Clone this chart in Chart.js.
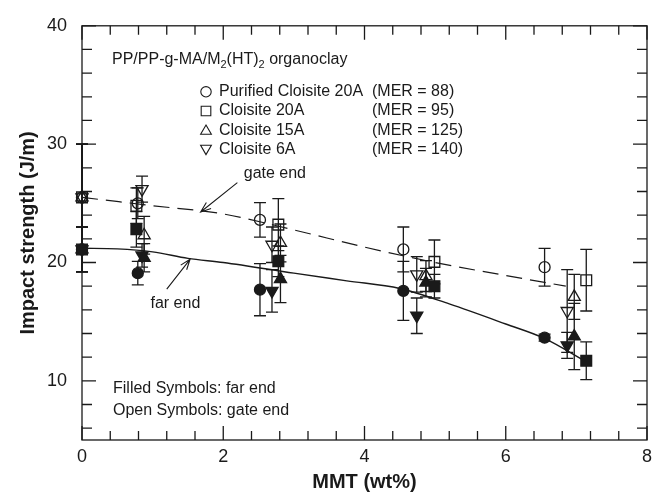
<!DOCTYPE html>
<html>
<head>
<meta charset="utf-8">
<script src="https://cdn.jsdelivr.net/npm/chart.js@4.4.1/dist/chart.umd.min.js"></script>
<style>
  html, body { margin: 0; padding: 0; background: #fff; }
  #wrap { width: 662px; height: 494px; }
</style>
</head>
<body>
<div id="wrap"><canvas id="c" width="662" height="494"></canvas></div>
<script>
// MMT content (wt%) of each composite series
const mmtPurified20A = [0, 0.79, 2.52, 4.55, 6.55];
const mmt20A         = [0, 0.77, 2.78, 4.99, 7.14];
const mmt15A         = [0, 0.88, 2.81, 4.87, 6.97];
const mmt6A          = [0, 0.85, 2.69, 4.74, 6.87];

// Izod impact strength (J/m) measured at the gate end (open symbols)
const gatePurified20A = [25.5, 25.0, 23.6, 21.1, 19.6];
const gate20A         = [25.5, 24.8, 23.2, 20.05, 18.5];
const gate15A         = [25.5, 22.3, 21.65, 18.85, 17.1];
const gate6A          = [25.5, 26.2, 21.5, 19.0, 15.9];
const gateErrPurified20A = [4.5, 1.3, 1.45, 1.9, 1.6];
const gateErr20A         = [4.5, 1.5, 2.2, 1.85, 2.6];
const gateErr15A         = [4.5, 1.6, 1.6, 1.3, 1.9];
const gateErr6A          = [4.5, 1.1, 1.5, 1.5, 3.5];

// Izod impact strength (J/m) measured at the far end (filled symbols)
const farPurified20A = [21.1, 19.1, 17.7, 17.6, 13.65];
const far20A         = [21.1, 22.8, 20.1, 18.0, 11.7];
const far15A         = [21.1, 20.4, 18.6, 18.3, 13.75];
const far6A          = [21.1, 20.6, 17.6, 15.5, 13.0];
const farErrPurified20A = [1.9, 1.0, 2.2, 2.5, 0.3];
const farErr20A         = [1.9, 1.5, 1.3, 1.0, 1.6];
const farErr15A         = [1.9, 1.2, 2.0, 1.2, 2.8];
const farErr6A          = [1.9, 1.0, 1.8, 1.5, 1.1];

// Trend curves drawn through the gate-end and far-end data
const gateCurveX = [0, 1, 2, 3, 4, 5, 6, 6.85];
const gateCurveY = [25.5, 24.8, 24.1, 22.75, 21.3, 20.0, 18.9, 18.0];
const farCurveX  = [0, 0.5, 1, 1.5, 2, 3, 3.75, 4.5, 5.2, 6, 6.54, 7.14];
const farCurveY  = [21.2, 21.15, 20.9, 20.35, 20.0, 19.1, 18.45, 17.8, 16.5, 14.8, 13.6, 11.6];

// Axis tick values
const xTickValues = [0, 0.4, 0.8, 1.2, 1.6, 2, 2.4, 2.8, 3.2, 3.6, 4, 4.4, 4.8, 5.2, 5.6, 6, 6.4, 6.8, 7.2, 7.6, 8];
const xLabelValues = [0, 2, 4, 6, 8];
const yTickValues = [6, 8, 10, 12, 14, 16, 18, 20, 22, 24, 26, 28, 30, 32, 34, 36, 38, 40];
const yLabelValues = [10, 20, 30, 40];

// Legend entries
const legendNames = ['Purified Cloisite 20A', 'Cloisite 20A', 'Cloisite 15A', 'Cloisite 6A'];
const legendMER = ['(MER = 88)', '(MER = 95)', '(MER = 125)', '(MER = 140)'];

const FONT = "'Liberation Sans', Arial, Helvetica, sans-serif";
const INK = '#1a1a1a';
const TEXT_SIZE = 16;

const toPts = (xs, ys) => xs.map((x, i) => ({ x, y: ys[i] }));

const markerStyles = [
  { pointStyle: 'circle',   pointRadius: 5.5, pointRotation: 0 },
  { pointStyle: 'rect',     pointRadius: 7.6, pointRotation: 0 },
  { pointStyle: 'triangle', pointRadius: 7,   pointRotation: 0 },
  { pointStyle: 'triangle', pointRadius: 7,   pointRotation: 180 }
];

const seriesX = [mmtPurified20A, mmt20A, mmt15A, mmt6A];
const gateY = [gatePurified20A, gate20A, gate15A, gate6A];
const gateE = [gateErrPurified20A, gateErr20A, gateErr15A, gateErr6A];
const farY = [farPurified20A, far20A, far15A, far6A];
const farE = [farErrPurified20A, farErr20A, farErr15A, farErr6A];

function scatterSet(label, xs, ys, errs, style, filled) {
  return {
    label,
    data: toPts(xs, ys),
    errors: errs,
    showLine: false,
    clip: false,
    pointStyle: style.pointStyle,
    pointRadius: style.pointRadius,
    pointHoverRadius: style.pointRadius,
    pointRotation: style.pointRotation,
    pointBorderWidth: 1.3,
    pointBorderColor: INK,
    pointBackgroundColor: filled ? INK : 'rgba(0,0,0,0)',
    borderColor: INK
  };
}

const datasets = [
  {
    label: 'gate end trend',
    data: toPts(gateCurveX, gateCurveY),
    showLine: true, pointRadius: 0, borderColor: INK, borderWidth: 1.2,
    borderDash: [16, 8], cubicInterpolationMode: 'monotone', fill: false
  },
  {
    label: 'far end trend',
    data: toPts(farCurveX, farCurveY),
    showLine: true, pointRadius: 0, borderColor: INK, borderWidth: 1.4,
    cubicInterpolationMode: 'monotone', fill: false
  }
];
for (let i = 0; i < 4; i++) {
  datasets.push(scatterSet(legendNames[i] + ' (gate end)', seriesX[i], gateY[i], gateE[i], markerStyles[i], false));
  datasets.push(scatterSet(legendNames[i] + ' (far end)', seriesX[i], farY[i], farE[i], markerStyles[i], true));
}

// Vertical error bars with caps, drawn under the markers
const errorBars = {
  id: 'errorBars',
  beforeDatasetsDraw(chart) {
    const { ctx, scales: { x, y } } = chart;
    ctx.save();
    ctx.strokeStyle = INK;
    ctx.lineWidth = 1.3;
    chart.data.datasets.forEach(ds => {
      if (!ds.errors) return;
      ds.data.forEach((p, i) => {
        const e = ds.errors[i];
        const px = x.getPixelForValue(p.x);
        const top = y.getPixelForValue(p.y + e);
        const bot = y.getPixelForValue(p.y - e);
        ctx.beginPath();
        ctx.moveTo(px, top); ctx.lineTo(px, bot);
        ctx.moveTo(px - 6, top); ctx.lineTo(px + 6, top);
        ctx.moveTo(px - 6, bot); ctx.lineTo(px + 6, bot);
        ctx.stroke();
      });
    });
    ctx.restore();
  }
};

// Box frame with inward tick marks on all four sides
const frameTicks = {
  id: 'frameTicks',
  afterDatasetsDraw(chart) {
    const { ctx, chartArea: a, scales: { x, y } } = chart;
    ctx.save();
    ctx.strokeStyle = INK;
    ctx.lineWidth = 1.3;
    ctx.strokeRect(a.left, a.top, a.right - a.left, a.bottom - a.top);
    ctx.beginPath();
    x.ticks.forEach(t => {
      const px = x.getPixelForValue(t.value);
      const len = xLabelValues.some(v => Math.abs(v - t.value) < 1e-6) ? 14 : 9;
      ctx.moveTo(px, a.bottom); ctx.lineTo(px, a.bottom - len);
      ctx.moveTo(px, a.top); ctx.lineTo(px, a.top + len);
    });
    y.ticks.forEach(t => {
      const py = y.getPixelForValue(t.value);
      const len = yLabelValues.includes(t.value) ? 14 : 10;
      ctx.moveTo(a.left, py); ctx.lineTo(a.left + len, py);
      ctx.moveTo(a.right, py); ctx.lineTo(a.right - len, py);
    });
    ctx.stroke();
    ctx.restore();
  }
};

function arrow(ctx, x0, y0, x1, y1) {
  const ang = Math.atan2(y1 - y0, x1 - x0);
  const h = 11, spread = 0.35;
  ctx.beginPath();
  ctx.moveTo(x0, y0); ctx.lineTo(x1, y1);
  ctx.moveTo(x1 - h * Math.cos(ang - spread), y1 - h * Math.sin(ang - spread));
  ctx.lineTo(x1, y1);
  ctx.lineTo(x1 - h * Math.cos(ang + spread), y1 - h * Math.sin(ang + spread));
  ctx.stroke();
}

function subText(ctx, parts, x, y, size) {
  // parts: [text, isSubscript]
  let cx = x;
  parts.forEach(([t, sub]) => {
    ctx.font = (sub ? Math.round(size * 0.7) : size) + 'px ' + FONT;
    ctx.fillText(t, cx, sub ? y + size * 0.3 : y);
    cx += ctx.measureText(t).width;
  });
}

// Annotation texts, legend and pointer arrows
const annotations = {
  id: 'annotations',
  afterDraw(chart) {
    const { ctx, chartArea: a, scales: { x, y } } = chart;
    ctx.save();
    ctx.fillStyle = INK;
    ctx.strokeStyle = INK;
    ctx.lineWidth = 1.1;
    ctx.textBaseline = 'middle';
    ctx.textAlign = 'left';

    subText(ctx, [['PP/PP-g-MA/M', false], ['2', true], ['(HT)', false], ['2', true], [' organoclay', false]],
      a.left + 30, a.top + 34, TEXT_SIZE);

    ctx.font = TEXT_SIZE + 'px ' + FONT;
    const rowTop = a.top + 66, rowGap = 19.2;
    for (let i = 0; i < 4; i++) {
      const ry = rowTop + i * rowGap;
      ctx.save();
      ctx.fillStyle = 'rgba(0,0,0,0)';
      Chart.helpers.drawPoint(ctx, {
        pointStyle: markerStyles[i].pointStyle,
        rotation: markerStyles[i].pointRotation,
        radius: markerStyles[i].pointStyle === 'rect' ? 6.8 : (markerStyles[i].pointStyle === 'circle' ? 5.2 : 6.2),
        borderWidth: 1.1
      }, a.left + 124, ry + (i === 2 ? 1 : (i === 3 ? -1 : 0)));
      ctx.restore();
      ctx.fillText(legendNames[i], a.left + 137, ry);
      ctx.fillText(legendMER[i], a.left + 290, ry);
    }

    ctx.fillText('Filled Symbols: far end', a.left + 31, a.top + 363);
    ctx.fillText('Open Symbols: gate end', a.left + 31, a.top + 385);

    ctx.fillText('gate end', x.getPixelForValue(2.29), y.getPixelForValue(27.5));
    ctx.fillText('far end', x.getPixelForValue(0.97), y.getPixelForValue(16.5));

    arrow(ctx, x.getPixelForValue(2.2), y.getPixelForValue(26.75), x.getPixelForValue(1.68), y.getPixelForValue(24.27));
    arrow(ctx, x.getPixelForValue(1.2), y.getPixelForValue(17.75), x.getPixelForValue(1.53), y.getPixelForValue(20.27));
    ctx.restore();
  }
};

new Chart(document.getElementById('c'), {
  type: 'line',
  data: { datasets },
  options: {
    responsive: false,
    animation: false,
    devicePixelRatio: 1,
    layout: { padding: { left: 0, right: 15, top: 17, bottom: 0 } },
    plugins: { legend: { display: false }, tooltip: { enabled: false } },
    scales: {
      x: {
        type: 'linear', min: 0, max: 8,
        afterBuildTicks: s => { s.ticks = xTickValues.map(v => ({ value: v })); },
        afterFit: s => { s.height = 54; },
        grid: { display: false, drawTicks: false },
        border: { display: false },
        ticks: {
          color: INK, padding: 6, maxRotation: 0, autoSkip: false,
          font: { family: FONT, size: 18 },
          callback: v => xLabelValues.some(t => Math.abs(t - v) < 1e-6) ? String(Math.round(v)) : ''
        },
        title: {
          display: true, text: 'MMT (wt%)', color: INK,
          font: { family: FONT, size: 20, weight: 'bold' }, padding: { top: 0, bottom: 0 }
        }
      },
      y: {
        type: 'linear', min: 5, max: 40,
        afterBuildTicks: s => { s.ticks = yTickValues.map(v => ({ value: v })); },
        afterFit: s => { s.width = 82; },
        grid: { display: false, drawTicks: false },
        border: { display: false },
        ticks: {
          color: INK, padding: 15, autoSkip: false,
          font: { family: FONT, size: 18 },
          callback: v => yLabelValues.includes(v) ? String(v) : ''
        },
        title: {
          display: true, text: 'Impact strength (J/m)', color: INK,
          font: { family: FONT, size: 20, weight: 'bold' }, padding: { top: 16, bottom: 0 }
        }
      }
    }
  },
  plugins: [errorBars, frameTicks, annotations]
});
</script>
</body>
</html>
